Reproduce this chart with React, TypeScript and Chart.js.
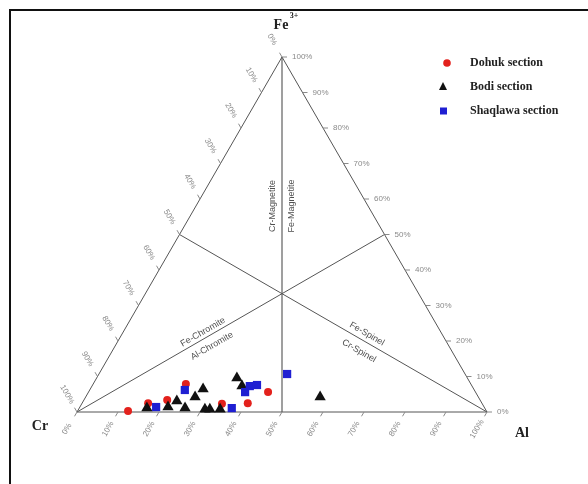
import React, { useEffect, useRef } from "react";
import { Chart, registerables } from "chart.js";

Chart.register(...registerables);

const H = Math.sqrt(3) / 2;

// Spinel compositions in % of Al and Fe3+ (Cr makes up the remainder)
const dohukAl = [12.3, 16.1, 20.3, 22.6, 34.2, 40.4, 43.8];
const dohukFe = [0.3, 2.5, 3.4, 7.9, 2.3, 2.5, 5.6];

const bodiAl = [16.5, 21.5, 22.8, 25.8, 26.7, 27.5, 30.8, 32.0, 34.5, 34.2, 36.6, 57.2];
const bodiFe = [1.1, 1.4, 3.1, 1.1, 4.2, 6.5, 0.8, 0.8, 0.8, 9.6, 7.3, 4.2];

const shaqlawaAl = [18.6, 23.2, 37.2, 38.2, 38.5, 40.1, 45.9];
const shaqlawaFe = [1.4, 6.2, 1.1, 5.6, 7.3, 7.6, 10.7];

const tickValues = [0, 10, 20, 30, 40, 50, 60, 70, 80, 90, 100];

const seriesNames = ["Dohuk section", "Bodi section", "Shaqlawa section"];
const seriesColors = ["#e3211c", "#111111", "#1f1fd2"];

// ternary (Al %, Fe %) -> cartesian, Cr at origin, Al at (1,0), Fe at apex
const toXY = (al: number, fe: number) => ({ x: (al + fe / 2) / 100, y: (fe / 100) * H });

const points = (al: number[], fe: number[]) => al.map((a, i) => toXY(a, fe[i]));

const line = (pts: [number, number][]) => pts.map(([a, f]) => toXY(a, f));

const overlay = {
  id: "ternaryOverlay",
  afterDraw(chart: any) {
    const ctx: CanvasRenderingContext2D = chart.ctx;
    const xs = chart.scales.x;
    const ys = chart.scales.y;
    const P = (al: number, fe: number) => {
      const p = toXY(al, fe);
      return [xs.getPixelForValue(p.x), ys.getPixelForValue(p.y)];
    };
    ctx.save();

    // outer frame
    ctx.strokeStyle = "#111";
    ctx.lineWidth = 2;
    ctx.beginPath();
    ctx.moveTo(10, 484);
    ctx.lineTo(10, 10);
    ctx.lineTo(588, 10);
    ctx.stroke();

    const small = '8px "Liberation Sans", Arial, sans-serif';
    ctx.fillStyle = "#8a8a8a";
    ctx.strokeStyle = "#8a8a8a";
    ctx.lineWidth = 1;
    ctx.font = small;
    ctx.textAlign = "center";
    ctx.textBaseline = "middle";

    // Fe3+ axis (right edge)
    tickValues.forEach((v) => {
      const [px, py] = P(100 - v, v);
      ctx.beginPath();
      ctx.moveTo(px, py);
      ctx.lineTo(px + 5, py);
      ctx.stroke();
      ctx.textAlign = "left";
      ctx.fillText(v + "%", px + 10, py);
    });

    // Cr axis (left edge)
    ctx.textAlign = "center";
    tickValues.forEach((v) => {
      const [px, py] = P(0, v);
      ctx.beginPath();
      ctx.moveTo(px, py);
      ctx.lineTo(px - 2.5, py - 4.3);
      ctx.stroke();
      ctx.save();
      ctx.translate(px - 10, py - 17.5);
      ctx.rotate(Math.PI / 3);
      ctx.fillText(100 - v + "%", 0, 0);
      ctx.restore();
    });

    // Al axis (base)
    tickValues.forEach((v) => {
      const [px, py] = P(v, 0);
      ctx.beginPath();
      ctx.moveTo(px, py);
      ctx.lineTo(px - 2.5, py + 4.3);
      ctx.stroke();
      ctx.save();
      ctx.translate(px - 10, py + 17);
      ctx.rotate(-Math.PI / 3);
      ctx.fillText(v + "%", 0, 0);
      ctx.restore();
    });

    // field names
    ctx.fillStyle = "#505050";
    ctx.font = '9px "Liberation Sans", Arial, sans-serif';
    const [vx] = P(50, 0);
    const [, my] = P(0, 58);
    ctx.save();
    ctx.translate(vx - 9, my);
    ctx.rotate(-Math.PI / 2);
    ctx.fillText("Cr-Magnetite", 0, 0);
    ctx.restore();
    ctx.save();
    ctx.translate(vx + 10, my);
    ctx.rotate(-Math.PI / 2);
    ctx.fillText("Fe-Magnetite", 0, 0);
    ctx.restore();

    const label = (t: string, x: number, y: number, ang: number) => {
      ctx.save();
      ctx.translate(x, y);
      ctx.rotate(ang);
      ctx.fillText(t, 0, 0);
      ctx.restore();
    };
    label("Fe-Chromite", 203, 332, -Math.PI / 6);
    label("Al-Chromite", 212, 346, -Math.PI / 6);
    label("Fe-Spinel", 367, 334, Math.PI / 6);
    label("Cr-Spinel", 359, 351, Math.PI / 6);

    // vertex names
    ctx.fillStyle = "#222";
    ctx.font = 'bold 14px "Liberation Serif", "Times New Roman", serif';
    const [ax, ay] = P(0, 100);
    ctx.textAlign = "center";
    ctx.fillText("Fe", ax - 1, ay - 32);
    ctx.font = 'bold 8px "Liberation Serif", "Times New Roman", serif';
    ctx.fillText("3+", ax + 12, ay - 41);
    ctx.font = 'bold 14px "Liberation Serif", "Times New Roman", serif';
    ctx.fillText("Cr", 40, 426);
    ctx.fillText("Al", 522, 433);

    // legend
    const ly = [63, 87, 111];
    ctx.textAlign = "left";
    ctx.font = 'bold 12px "Liberation Serif", "Times New Roman", serif';
    seriesNames.forEach((n, i) => {
      const cx = 446;
      const cy = ly[i];
      ctx.fillStyle = seriesColors[i];
      ctx.beginPath();
      if (i === 0) {
        ctx.arc(cx + 1, cy, 3.8, 0, Math.PI * 2);
      } else if (i === 1) {
        ctx.moveTo(cx - 3, cy - 5);
        ctx.lineTo(cx + 1, cy + 3);
        ctx.lineTo(cx - 7, cy + 3);
        ctx.closePath();
      } else {
        ctx.rect(cx - 6, cy - 3.5, 7, 7);
      }
      ctx.fill();
      ctx.fillStyle = "#222";
      ctx.fillText(n, 470, cy);
    });

    ctx.restore();
  },
};

export default function App() {
  const ref = useRef<HTMLCanvasElement | null>(null);

  useEffect(() => {
    if (!ref.current) return;
    const gridLine = (data: { x: number; y: number }[], color: string, width: number) => ({
      type: "line" as const,
      data,
      borderColor: color,
      borderWidth: width,
      pointRadius: 0,
      showLine: true,
      fill: false,
      clip: false as const,
      order: 5,
    });
    const chart = new Chart(ref.current, {
      type: "scatter",
      data: {
        datasets: [
          {
            label: seriesNames[2],
            data: points(shaqlawaAl, shaqlawaFe),
            pointStyle: "rect",
            pointRadius: 5.8,
            backgroundColor: seriesColors[2],
            borderColor: seriesColors[2],
            borderWidth: 0,
            clip: false,
            order: 0,
          },
          {
            label: seriesNames[1],
            data: points(bodiAl, bodiFe),
            pointStyle: "triangle",
            pointRadius: 6.5,
            backgroundColor: seriesColors[1],
            borderColor: seriesColors[1],
            borderWidth: 0,
            clip: false,
            order: 1,
          },
          {
            label: seriesNames[0],
            data: points(dohukAl, dohukFe),
            pointStyle: "circle",
            pointRadius: 4,
            backgroundColor: seriesColors[0],
            borderColor: seriesColors[0],
            borderWidth: 0,
            clip: false,
            order: 2,
          },
          gridLine(line([[0, 0], [100, 0], [0, 100], [0, 0]]), "#555", 1),
          gridLine(line([[0, 0], [50, 50]]), "#555", 1),
          gridLine(line([[100, 0], [0, 50]]), "#555", 1),
          gridLine(line([[0, 100], [50, 0]]), "#888", 1.6),
        ] as any,
      },
      options: {
        animation: false,
        responsive: false,
        devicePixelRatio: 1,
        layout: { padding: { left: 77, right: 101, top: 57, bottom: 72 } },
        plugins: { legend: { display: false }, tooltip: { enabled: false } },
        scales: {
          x: { type: "linear", min: 0, max: 1, display: false },
          y: { type: "linear", min: 0, max: H, display: false },
        },
      },
      plugins: [overlay],
    });
    return () => chart.destroy();
  }, []);

  return (
    <div style={{ position: "absolute", left: 0, top: 0, width: 588, height: 484, background: "#fff" }}>
      <canvas ref={ref} width={588} height={484} />
    </div>
  );
}
